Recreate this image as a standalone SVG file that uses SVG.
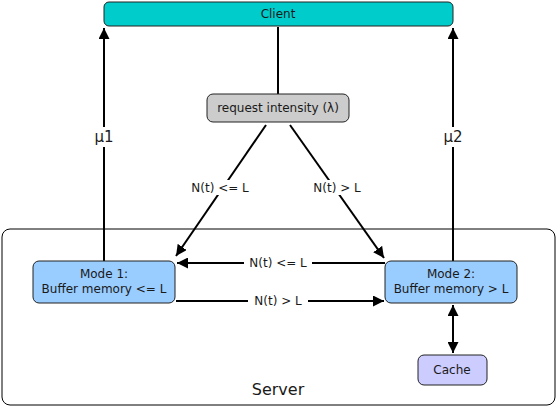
<svg xmlns="http://www.w3.org/2000/svg" width="557" height="407" viewBox="0 0 557 407">
<defs>
<marker id="ah" viewBox="0 0 10 10" refX="10" refY="5" markerWidth="11" markerHeight="11" markerUnits="userSpaceOnUse" orient="auto-start-reverse">
<path d="M0,0 L10,5 L0,10 z" fill="#000"/>
</marker>
<style>
text{font-family:"DejaVu Sans",Verdana,sans-serif;font-size:12px;fill:#1a1a1a;text-anchor:middle}
.box{stroke:#222;stroke-width:1}
.ln{stroke:#000;stroke-width:2;fill:none}
.lbl{fill:#fff}
</style>
</defs>
<g id="server">
<rect x="2" y="229" width="553" height="176" rx="8" fill="#fff" stroke="#000" stroke-width="1"/>
<text x="278" y="395" style="font-size:16px">Server</text>
</g>
<g id="connectors">
<line class="ln" x1="278" y1="27" x2="278" y2="94"/>
<line class="ln" x1="104" y1="261" x2="104" y2="28" marker-end="url(#ah)"/>
<rect class="lbl" x="92" y="127" width="24" height="20"/>
<text x="104" y="142" style="font-size:15px">μ1</text>
<line class="ln" x1="453" y1="261" x2="453" y2="28" marker-end="url(#ah)"/>
<rect class="lbl" x="441" y="127" width="24" height="20"/>
<text x="453" y="142" style="font-size:15px">μ2</text>
<line class="ln" x1="266" y1="125" x2="176" y2="256" marker-end="url(#ah)"/>
<rect class="lbl" x="186" y="180" width="68" height="15"/>
<text x="220" y="192">N(t) &lt;= L</text>
<line class="ln" x1="290" y1="125" x2="384" y2="258" marker-end="url(#ah)"/>
<rect class="lbl" x="307" y="180" width="60" height="15"/>
<text x="337" y="192">N(t) &gt; L</text>
<line class="ln" x1="385" y1="263" x2="177" y2="263" marker-end="url(#ah)"/>
<rect class="lbl" x="244" y="255" width="68" height="15"/>
<text x="278" y="267">N(t) &lt;= L</text>
<line class="ln" x1="176" y1="301" x2="384" y2="301" marker-end="url(#ah)"/>
<rect class="lbl" x="248" y="293" width="60" height="15"/>
<text x="278" y="305">N(t) &gt; L</text>
<line class="ln" x1="453" y1="305" x2="453" y2="353" marker-start="url(#ah)" marker-end="url(#ah)"/>
</g>
<g id="client">
<rect class="box" x="104" y="2" width="349" height="24" rx="5" fill="#00cccc"/>
<text x="278" y="18">Client</text>
</g>
<g id="request">
<rect class="box" x="207" y="94" width="142" height="28" rx="6" fill="#cccccc"/>
<text x="278" y="112">request intensity (λ)</text>
</g>
<g id="mode1">
<rect class="box" x="33" y="261" width="142" height="42" rx="6" fill="#99ccff"/>
<text x="104" y="278">Mode 1:</text>
<text x="104" y="293">Buffer memory &lt;= L</text>
</g>
<g id="mode2">
<rect class="box" x="385" y="261" width="132" height="42" rx="6" fill="#99ccff"/>
<text x="451" y="278">Mode 2:</text>
<text x="451" y="293">Buffer memory &gt; L</text>
</g>
<g id="cache">
<rect class="box" x="418" y="355" width="69" height="30" rx="6" fill="#ccccff"/>
<text x="452" y="374">Cache</text>
</g>
</svg>
